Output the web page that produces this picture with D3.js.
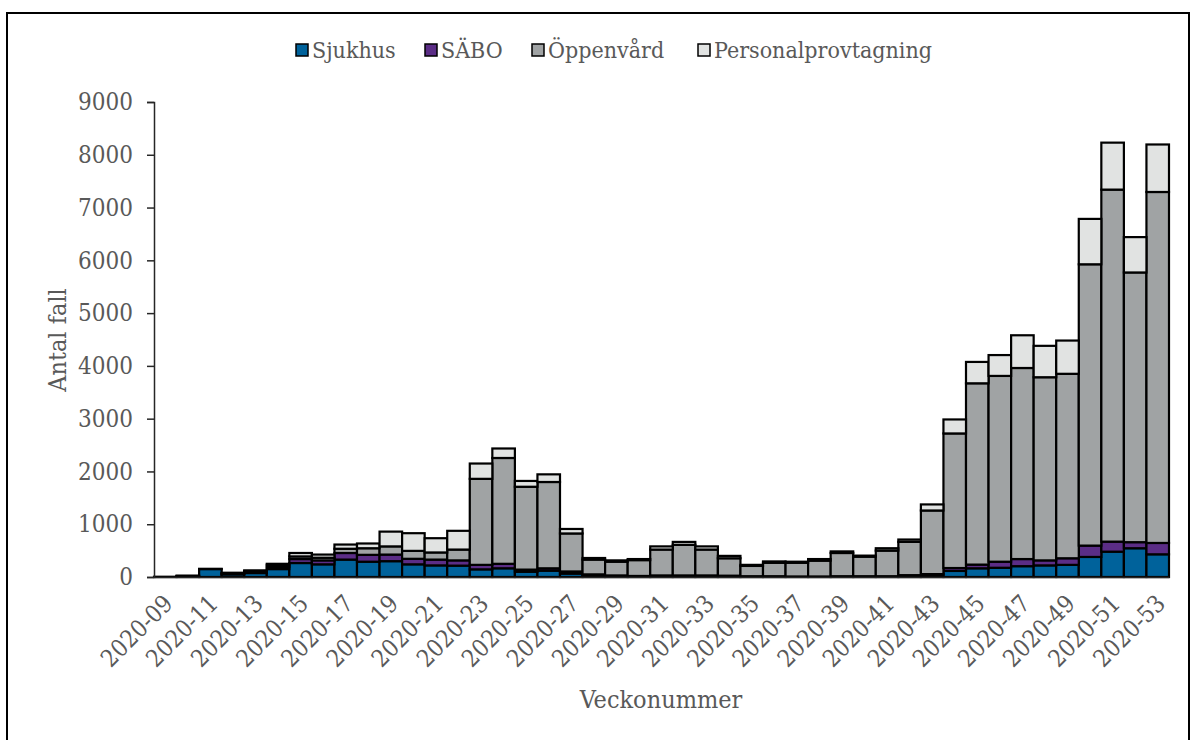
<!DOCTYPE html>
<html>
<head>
<meta charset="utf-8">
<script src="https://cdn.jsdelivr.net/npm/d3@7"></script>
<style>
  body { margin: 0; background: #fff; }
  svg { display: block; }
  text { font-family: "DejaVu Serif Condensed", "DejaVu Serif", serif; fill: #595959; }
</style>
</head>
<body>
<svg id="chart" width="1191" height="740"></svg>
<script>
// weeks 2020-09 .. 2020-53
const weeks = d3.range(9, 54).map((w) => "2020-" + String(w).padStart(2, "0"));

const sjukhus = [5, 10, 150, 50, 75, 150, 265, 240, 330, 290, 300, 240, 220, 215, 145,
  165, 100, 120, 65, 20, 15, 10, 20, 20, 20, 15, 10, 10, 5, 5, 10, 10, 10, 20, 35, 115,
  165, 175, 205, 220, 230, 380, 480, 545, 430];
const sabo = [0, 0, 0, 10, 15, 40, 75, 75, 125, 130, 125, 105, 110, 100, 85,
  85, 40, 45, 40, 30, 15, 10, 10, 10, 10, 10, 5, 5, 5, 5, 5, 5, 5, 15, 20, 55,
  70, 115, 135, 95, 125, 215, 190, 115, 215];
const oppenvard = [0, 10, 5, 15, 25, 40, 50, 50, 80, 125, 155, 150, 135, 205, 1630,
  2005, 1570, 1635, 720, 280, 260, 300, 490, 580, 490, 330, 195, 255, 260, 300, 440, 370, 485, 630, 1205, 2550,
  3435, 3520, 3620, 3470, 3495, 5330, 6670, 5110, 6650];
const personal = [0, 5, 0, 5, 10, 20, 65, 60, 80, 90, 280, 335, 270, 355, 290,
  180, 110, 145, 85, 30, 25, 20, 60, 55, 60, 45, 20, 25, 20, 30, 30, 20, 45, 45, 115, 265,
  405, 395, 620, 595, 630, 860, 890, 670, 900];

const seriesNames = ["Sjukhus", "SÄBO", "Öppenvård", "Personalprovtagning"];
const colors = ["#00629b", "#5b2d86", "#a0a3a4", "#e1e3e2"];
const yTicks = [0, 1000, 2000, 3000, 4000, 5000, 6000, 7000, 8000, 9000];

const rows = weeks.map((w, i) => ({
  week: w,
  Sjukhus: sjukhus[i],
  "SÄBO": sabo[i],
  "Öppenvård": oppenvard[i],
  Personalprovtagning: personal[i],
}));

const svg = d3.select("#chart");

// outer frame
svg.append("rect")
  .attr("x", 7).attr("y", 13)
  .attr("width", 1182).attr("height", 760)
  .attr("fill", "none").attr("stroke", "#000").attr("stroke-width", 2);

const x = d3.scaleBand().domain(weeks).range([154, 1169]).padding(0);
const y = d3.scaleLinear().domain([0, 9000]).range([577, 102]);
const color = d3.scaleOrdinal().domain(seriesNames).range(colors);

const stacked = d3.stack().keys(seriesNames)(rows);

svg.append("g")
  .selectAll("g")
  .data(stacked)
  .join("g")
  .attr("fill", (d) => color(d.key))
  .selectAll("rect")
  .data((d) => d)
  .join("rect")
  .attr("x", (d) => x(d.data.week))
  .attr("y", (d) => y(d[1]))
  .attr("width", x.bandwidth())
  .attr("height", (d) => y(d[0]) - y(d[1]))
  .attr("stroke", "#000")
  .attr("stroke-width", 2.2);

// y axis
const yAxis = svg.append("g")
  .attr("transform", "translate(154,0)")
  .call(d3.axisLeft(y).tickValues(yTicks).tickSize(7).tickPadding(14).tickFormat(d3.format("d")));
yAxis.select(".domain").attr("stroke", "#262626").attr("stroke-width", 1.5);
yAxis.selectAll(".tick line").attr("stroke", "#262626").attr("stroke-width", 1.5);
yAxis.selectAll("text").style("font-size", "24px").attr("fill", "#595959");

// x axis
const xAxis = svg.append("g")
  .attr("transform", "translate(0,577)")
  .call(d3.axisBottom(x).tickValues(weeks.filter((d, i) => i % 2 === 0)).tickSize(0).tickPadding(0));
xAxis.select(".domain").attr("stroke", "#262626").attr("stroke-width", 1.5);
xAxis.selectAll("text")
  .style("font-size", "24px")
  .attr("fill", "#595959")
  .attr("text-anchor", "end")
  .attr("dy", "0")
  .attr("transform", "translate(9,28) rotate(-45)");

// axis titles
svg.append("text")
  .attr("transform", "translate(66,340) rotate(-90)")
  .attr("text-anchor", "middle")
  .style("font-size", "25px")
  .text("Antal fall");

svg.append("text")
  .attr("x", 661).attr("y", 708)
  .attr("text-anchor", "middle")
  .style("font-size", "25px")
  .text("Veckonummer");

// legend
const legendX = [296, 425, 532, 698];
const legend = svg.append("g")
  .selectAll("g")
  .data(seriesNames)
  .join("g")
  .attr("transform", (d, i) => `translate(${legendX[i]},50)`);
legend.append("rect")
  .attr("x", 0).attr("y", -6)
  .attr("width", 12).attr("height", 12)
  .attr("fill", (d) => color(d))
  .attr("stroke", "#000").attr("stroke-width", 1.5);
legend.append("text")
  .attr("x", 16).attr("y", 0).attr("dy", "0.35em")
  .style("font-size", "23px")
  .text((d) => d);
</script>
</body>
</html>
